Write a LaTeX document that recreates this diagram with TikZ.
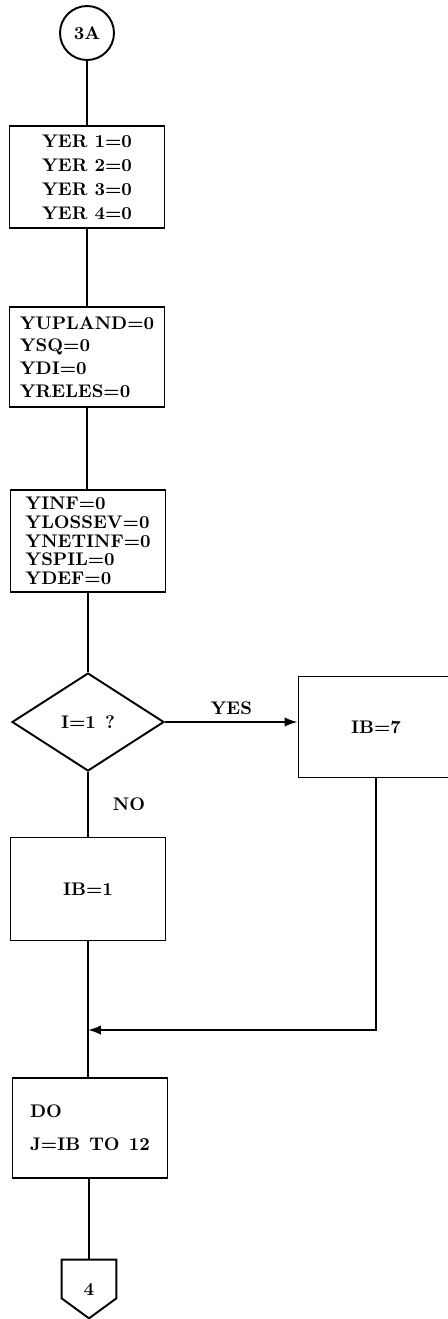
\documentclass[tikz,border=0pt]{standalone}
\usepackage{tikz}
\usetikzlibrary{arrows.meta,shapes.geometric}

\begin{document}
\begin{tikzpicture}[x=0.02cm, y=-0.02cm,
    box/.style={draw, line width=1.1pt, minimum width=3.1cm, minimum height=2.04cm},
    txt/.style={font=\bfseries\fontsize{10.4}{#1}\selectfont},
    line/.style={line width=1.1pt},
    arr/.style={line width=1.1pt, -{Latex[length=2.6mm,width=1.9mm]}}
]
\useasboundingbox (0,0) rectangle (447,1319);

\node[draw, line width=1.1pt, circle, minimum size=1.08cm, inner sep=0pt, txt=12] (start) at (87,33) {3A};
\node[box, align=center, txt=13.6] (yer) at (87,177) {YER 1=0\\YER 2=0\\YER 3=0\\YER 4=0};
\node[box, minimum height=2cm, align=left, txt=13] (yup) at (87,357) {YUPLAND=0\\YSQ=0\\YDI=0\\YRELES=0};
\node[box, align=left, inner sep=1pt, txt=10.7] (yinf) at (88,541) {YINF=0\\YLOSSEV=0\\YNETINF=0\\YSPIL=0\\YDEF=0};
\node[draw, line width=1.1pt, diamond, minimum width=3.04cm, minimum height=1.96cm, inner sep=0pt, txt=12] (dec) at (88,722) {I=1\enspace ?};
\node[box, minimum height=2.02cm, txt=12] (ib7) at (376,727) {IB=7};
\node[box, minimum height=2.06cm, txt=12] (ib1) at (88,889) {IB=1};
\coordinate (merge) at (88,1030);
\node[box, minimum height=2cm, align=left, txt=13] (dobox) at (90,1128) {DO\\[6pt]J=IB\enspace TO\enspace 12};
\node[minimum width=1.08cm, minimum height=1.16cm, inner sep=0pt, txt=12] (con4) at (89,1289) {4};
\draw[line] (con4.north west) -- (con4.north east) -- ([yshift=0.4cm]con4.south east)
    -- (con4.south) -- ([yshift=0.4cm]con4.south west) -- cycle;

\draw[line] (start) -- (yer);
\draw[line] (yer) -- (yup);
\draw[line] (yup) -- (yup |- yinf.north);
\draw[line] (yinf) -- (dec);
\draw[arr] (dec.east) -- node[above, txt=12] {YES} (dec.east -| ib7.west);
\draw[line] (dec) -- node[right=0.36cm, txt=12] {NO} (ib1);
\draw[line] (ib1) -- (ib1 |- dobox.north);
\draw[arr] (ib7.south) |- (merge);
\draw[line] (dobox.south -| con4) -- (con4);
\end{tikzpicture}
\end{document}
